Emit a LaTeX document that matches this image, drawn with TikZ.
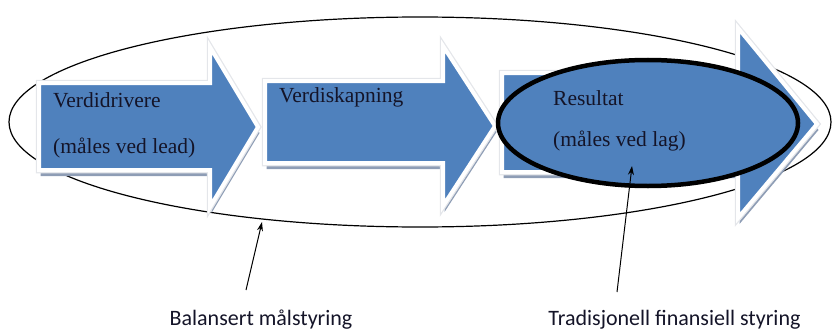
\documentclass[tikz,border=0pt]{standalone}
\usepackage{fontspec}
\setmainfont{Liberation Serif}
\newfontfamily\labelfont{Carlito}
\usetikzlibrary{arrows.meta}
\definecolor{arrowblue}{HTML}{4F81BD}
\definecolor{shadowblue}{HTML}{8E9DB5}
\definecolor{glowgray}{HTML}{E4E6EA}
\definecolor{textnavy}{HTML}{141428}
\tikzset{
  blockarrow/.style={fill=arrowblue, draw=white, line width=4pt, line join=miter,
    preaction={fill=shadowblue, transform canvas={shift={(1.5pt,-6pt)}}},
    preaction={draw=glowgray, line width=6.5pt, line join=miter}},
  boxtext/.style={inner sep=0pt, anchor=base west, text=textnavy,
    font=\fontsize{21.5}{26}\selectfont},
  bottomlabel/.style={inner sep=0pt, anchor=base, text=textnavy,
    font=\labelfont\fontsize{22}{26}\selectfont},
  pointer/.style={line width=1pt, -{Stealth[length=9pt,width=6pt]}},
  outerring/.style={draw=black, line width=1.2pt},
  resultring/.style={draw=black, fill=arrowblue, line width=4.5pt}
}
\begin{document}
\begin{tikzpicture}[x=1pt,y=-1pt]
\useasboundingbox (0,0) rectangle (832,329);
% outer ellipse
\draw[outerring] (420,122) ellipse [x radius=411, y radius=105];
% arrows
\path[blockarrow] (39,83) -- (210,83) -- (210,47) -- (258,127) -- (210,207) -- (210,170) -- (39,170) -- cycle;
\path[blockarrow] (265,81) -- (443,81) -- (443,46) -- (495,126) -- (443,206) -- (443,163) -- (265,163) -- cycle;
\path[blockarrow] (502,73) -- (738,73) -- (738,28) -- (817,124) -- (738,218) -- (738,172) -- (502,172) -- cycle;
% result ellipse
\draw[resultring] (648,123) ellipse [x radius=150, y radius=63];
% texts
\node[boxtext] (t1a) at (53,107) {Verdidrivere};
\node[boxtext] (t1b) at (53,153) {(måles ved lead)};
\node[boxtext] (t2) at (279,102) {Verdiskapning};
\node[boxtext] (t3a) at (553,105) {Resultat};
\node[boxtext] (t3b) at (553,146) {(måles ved lag)};
% bottom labels
\node[bottomlabel] (lblA) at (261,325) {Balansert målstyring};
\node[bottomlabel] (lblB) at (674.5,325) {Tradisjonell finansiell styring};
\coordinate (tipA) at (262,222);
\coordinate (tipB) at (632,166);
\draw[pointer] ([shift={(-15pt,35pt)}]lblA.base) -- (tipA);
\draw[pointer] ([shift={(-57.5pt,33pt)}]lblB.base) -- (tipB);
\end{tikzpicture}
\end{document}
